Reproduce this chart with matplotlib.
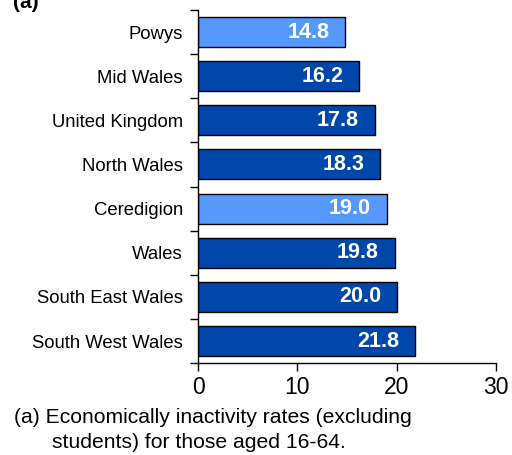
import numpy as np
import matplotlib
matplotlib.use('Agg')
import matplotlib.pyplot as plt

plt.rcParams['font.family'] = ['Liberation Sans', 'DejaVu Sans']

regions = ['Powys', 'Mid Wales', 'United Kingdom', 'North Wales', 'Ceredigion',
           'Wales', 'South East Wales', 'South West Wales']
rates = [14.8, 16.2, 17.8, 18.3, 19.0, 19.8, 20.0, 21.8]
highlight = ['Powys', 'Ceredigion']

light = '#5599FF'
dark = '#0047AB'

fig = plt.figure(figsize=(5.12, 4.55), dpi=100)
ax = fig.add_axes([0.387, 0.202, 0.582, 0.776])

y = np.arange(len(regions))
colors = [light if r in highlight else dark for r in regions]
ax.barh(y, rates, height=0.68, color=colors, edgecolor='black', linewidth=1.0)

for yi, v in zip(y, rates):
    ax.text(v - 1.6, yi, f'{v:.1f}', color='white', fontsize=15.5, fontweight='bold',
            ha='right', va='center')

ax.set_ylim(len(regions) - 0.5, -0.5)
ax.set_xlim(0, 30)
ax.set_xticks([0, 10, 20, 30])
ax.tick_params(axis='x', labelsize=16.5, length=6, width=1, direction='out')
ax.set_yticks(y)
ax.set_yticklabels(regions, fontsize=13.3)
ax.tick_params(axis='y', length=0, pad=11)
ax.set_yticks(np.arange(len(regions) + 1) - 0.5, minor=True)
ax.tick_params(axis='y', which='minor', length=6, width=1, direction='out')
ax.tick_params(axis='x', which='minor', length=0)

for s in ['top', 'right']:
    ax.spines[s].set_visible(False)
ax.spines['left'].set_linewidth(1)
ax.spines['bottom'].set_linewidth(1)

fig.text(0.025, 0.995, '(a)', fontsize=15, fontweight='bold', ha='left', va='center')
fig.text(0.027, 0.082, '(a) Economically inactivity rates (excluding', fontsize=15.2,
         ha='left', va='center')
fig.text(0.102, 0.028, 'students) for those aged 16-64.', fontsize=15.2,
         ha='left', va='center')

fig.savefig('out.png', dpi=100)
